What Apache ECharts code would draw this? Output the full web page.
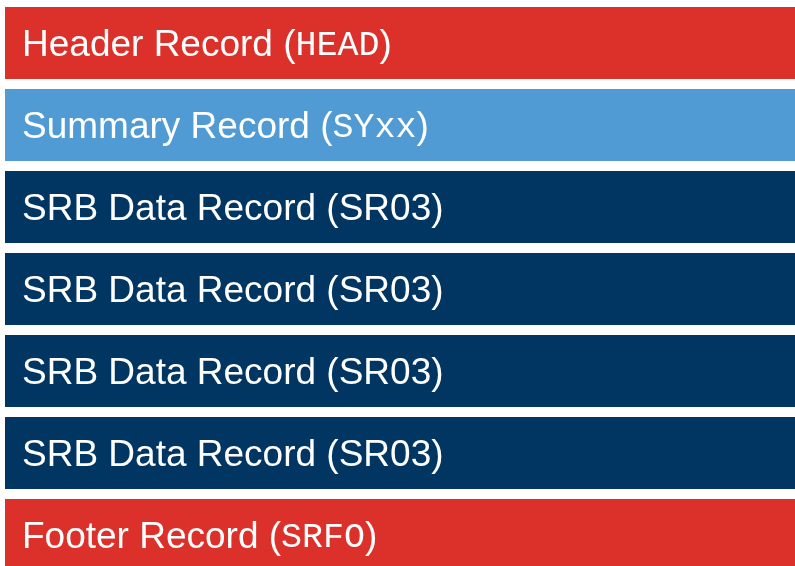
<!DOCTYPE html>
<html>
  <head>
    <meta charset="utf-8" />
    <title>Record layout</title>
    <script src="https://cdnjs.cloudflare.com/ajax/libs/echarts/6.0.0/echarts.min.js"></script>
  </head>
  <body>
    <style>
      html,
      body {
        width: 100%;
        height: 566px;
        margin: 0;
        padding: 0;
        overflow: hidden;
        background: #ffffff;
      }
      #main {
        width: 795px;
        height: 580px;
      }
    </style>
    <div id="main"></div>
    <script type="text/javascript">
      // one bar per record, top to bottom
      var recordNames = ['Header Record', 'Summary Record', 'SRB Data Record', 'SRB Data Record',
                         'SRB Data Record', 'SRB Data Record', 'Footer Record'];
      var recordCodes = ['HEAD', 'SYxx', 'SR03', 'SR03', 'SR03', 'SR03', 'SRFO'];
      var codeIsMono = [true, true, false, false, false, false, true];
      var recordKinds = ['edge', 'summary', 'data', 'data', 'data', 'data', 'edge'];
      var barValues = [1, 1, 1, 1, 1, 1, 1];

      var kindColors = {
        edge: '#dc312b',
        summary: '#509bd4',
        data: '#023662'
      };

      var chartDom = document.getElementById('main');
      var myChart = echarts.init(chartDom);

      // the last bar runs off the bottom of the picture, so the canvas is taller than the window
      var option = {
        animation: false,
        grid: { left: 5, right: 0, top: 2, bottom: 4 },
        xAxis: { type: 'value', min: 0, max: 1, show: false },
        yAxis: {
          type: 'category',
          inverse: true,
          data: recordNames.map(function (n, i) { return i; }),
          show: false
        },
        series: [
          {
            type: 'bar',
            barWidth: 72,
            data: barValues.map(function (v, i) {
              return { value: v, itemStyle: { color: kindColors[recordKinds[i]] } };
            }),
            label: {
              show: true,
              position: 'insideLeft',
              distance: 17,
              offset: [0, 3],
              formatter: function (p) {
                var i = p.dataIndex;
                var tag = codeIsMono[i] ? 'm' : 's';
                return '{s|' + recordNames[i] + ' (}{' + tag + '|' + recordCodes[i] + '}{s|)}';
              },
              rich: {
                s: {
                  color: '#ffffff',
                  fontFamily: 'Liberation Sans',
                  fontSize: 37
                },
                m: {
                  color: '#ffffff',
                  fontFamily: 'Liberation Mono',
                  fontSize: 35
                }
              }
            }
          }
        ]
      };

      myChart.setOption(option);
    </script>
  </body>
</html>
